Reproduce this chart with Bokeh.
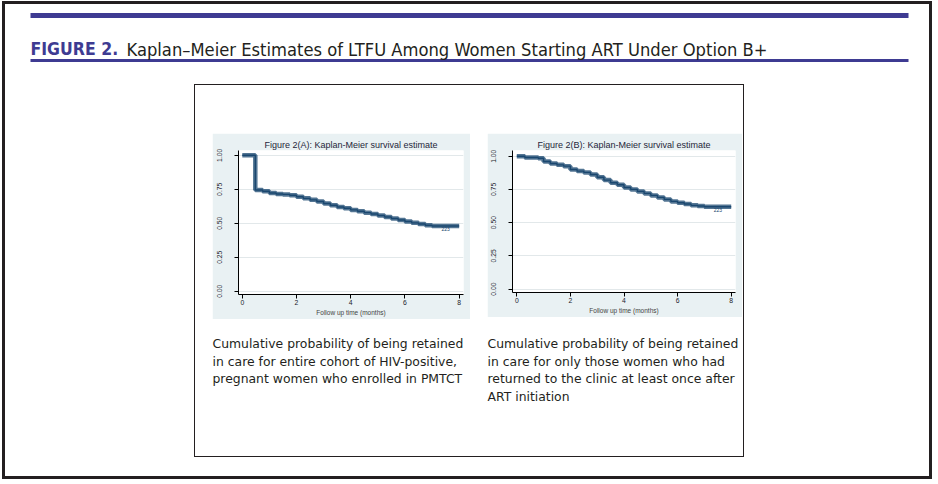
from bokeh.plotting import figure
from bokeh.layouts import column, row
from bokeh.models import Spacer, Range1d, FixedTicker
from bokeh.embed import file_html
from bokeh.resources import INLINE
from bokeh.core.properties import value

# ---------------- data ----------------
months_A = [0, 0.48, 0.75, 1.0, 1.25, 1.5, 1.75, 2.0, 2.25, 2.5, 2.75, 3.0, 3.25, 3.5,
            3.75, 4.0, 4.25, 4.5, 4.75, 5.0, 5.25, 5.5, 5.75, 6.0, 6.25, 6.5, 6.75, 7.0, 8.0]
surv_A = [1.0, 0.745, 0.735, 0.722, 0.715, 0.712, 0.706, 0.695, 0.683, 0.672, 0.66, 0.645,
          0.632, 0.62, 0.61, 0.598, 0.588, 0.578, 0.568, 0.557, 0.546, 0.535, 0.524, 0.513,
          0.503, 0.494, 0.485, 0.48, 0.48]

months_B = [0, 0.3, 0.8, 1.0, 1.25, 1.5, 1.75, 2.0, 2.25, 2.5, 2.75, 3.0, 3.25, 3.5, 3.75,
            4.0, 4.25, 4.5, 4.75, 5.0, 5.25, 5.5, 5.75, 6.0, 6.25, 6.5, 6.75, 7.0, 8.0]
surv_B = [1.0, 0.99, 0.985, 0.96, 0.945, 0.935, 0.925, 0.9, 0.888, 0.878, 0.862, 0.842,
          0.82, 0.8, 0.785, 0.765, 0.75, 0.735, 0.72, 0.705, 0.69, 0.675, 0.66, 0.65,
          0.64, 0.63, 0.625, 0.62, 0.62]

x_ticks = [0, 2, 4, 6, 8]
y_ticks = [0, 0.25, 0.5, 0.75, 1.0]
y_tick_labels = ["0.00", "0.25", "0.50", "0.75", "1.00"]

titles = ["Figure 2(A): Kaplan-Meier survival estimate",
          "Figure 2(B): Kaplan-Meier survival estimate"]
x_label = "Follow up time (months)"
fig_label = "FIGURE 2."
fig_title = "Kaplan\u2013Meier Estimates of LTFU Among Women Starting ART Under Option B+"
caption_A = ["Cumulative probability of being retained",
             "in care for entire cohort of HIV-positive,",
             "pregnant women who enrolled in PMTCT"]
caption_B = ["Cumulative probability of being retained",
             "in care for only those women who had",
             "returned to the clinic at least once after",
             "ART initiation"]
end_numbers = ["223", "223"]

NAVY = "#1a476f"
BG = "#e9f1f3"
PURPLE = "#3e3b92"
INK = "#231f20"


def km_plot(t, s, title, w, h, xr, yr, ml, end_label):
    p = figure(width=w, height=h, x_range=Range1d(*xr), y_range=Range1d(*yr),
               output_backend="svg", toolbar_location=None,
               min_border_left=ml, min_border_right=7, min_border_top=17, min_border_bottom=25,
               background_fill_color="white", border_fill_color=BG, outline_line_color=None)
    p.title.text = title
    p.title.text_font = "Liberation Sans"
    p.title.text_font_size = "9px"
    p.title.text_font_style = "normal"
    p.title.text_color = "#1f1f3a"
    p.title.align = "center"
    p.title.standoff = 1
    p.xgrid.visible = False
    p.ygrid.ticker = FixedTicker(ticks=y_ticks)
    p.ygrid.grid_line_color = "#e2e8ea"
    for ax in (p.xaxis[0], p.yaxis[0]):
        ax.axis_line_color = "black"
        ax.major_tick_line_color = "black"
        ax.minor_tick_line_color = None
        ax.major_tick_in = 0
        ax.major_tick_out = 4
        ax.major_label_text_font = "Liberation Sans"
        ax.major_label_text_font_size = "6.8px"
        ax.major_label_text_color = "#1a1a2a"
    p.xaxis.ticker = FixedTicker(ticks=x_ticks)
    p.xaxis.major_label_standoff = 1
    p.xaxis.axis_label = x_label
    p.xaxis.axis_label_text_font = "Liberation Sans"
    p.xaxis.axis_label_text_font_size = "6.5px"
    p.xaxis.axis_label_text_font_style = "normal"
    p.xaxis.axis_label_standoff = 1
    p.yaxis.ticker = FixedTicker(ticks=y_ticks)
    p.yaxis.major_label_overrides = {k: v for k, v in zip(y_ticks, y_tick_labels)}
    p.yaxis.major_label_orientation = "vertical"
    p.yaxis.major_label_standoff = 12
    # band of censoring marks + survival step
    p.step(t, s, mode="after", line_color=NAVY, line_width=4.5, line_alpha=0.75)
    p.step(t, s, mode="after", line_color=NAVY, line_width=1.4)
    p.text(x=[t[-1] - 0.5], y=[s[-1]], text=[end_label], text_font=value("Liberation Sans"),
           text_font_size="5px", text_color=NAVY, text_align="center", text_baseline="top",
           y_offset=1)
    return p


figA = km_plot(months_A, surv_A, titles[0], 258, 186, (-0.14, 8.16), (-0.024, 1.035), 26, end_numbers[0])
figB = km_plot(months_B, surv_B, titles[1], 255, 184, (-0.16, 8.16), (-0.026, 1.043), 25, end_numbers[1])

# ---------------- header ----------------
header = figure(width=924, height=80, x_range=Range1d(5, 929), y_range=Range1d(84, 4),
                output_backend="svg", toolbar_location=None, min_border=0,
                outline_line_color=None, background_fill_color="white", border_fill_color="white")
header.axis.visible = False
header.grid.visible = False
header.quad(left=[30], right=[908], top=[12.5], bottom=[17.5], color=PURPLE, line_color=None)
header.quad(left=[30], right=[908], top=[58.5], bottom=[61.5], color=PURPLE, line_color=None)
header.text(x=[30], y=[48.5], text=[fig_label], text_font=value("DejaVu Sans Condensed"),
            text_font_size="17.5px", text_color=PURPLE, text_baseline="alphabetic",
            text_font_style="bold")
header.text(x=[126], y=[48.5], text=[fig_title], text_font=value("DejaVu Sans Condensed"),
            text_font_size="18.2px", text_color=INK, text_baseline="alphabetic")

# ---------------- captions ----------------
cap = figure(width=548, height=137, x_range=Range1d(195, 743), y_range=Range1d(456, 319),
             output_backend="svg", toolbar_location=None, min_border=0,
             outline_line_color=None, background_fill_color="white", border_fill_color="white")
cap.axis.visible = False
cap.grid.visible = False
line_y = [343, 360.5, 378, 396]
cap.text(x=[212] * len(caption_A), y=line_y[:len(caption_A)], text=caption_A,
         text_font=value("DejaVu Sans"), text_font_size="12.4px", text_color=INK,
         text_baseline="middle")
cap.text(x=[487] * len(caption_B), y=line_y[:len(caption_B)], text=caption_B,
         text_font=value("DejaVu Sans"), text_font_size="12.4px", text_color=INK,
         text_baseline="middle")

box = column(Spacer(width=548, height=48),
             row(Spacer(width=17, height=186), figA, Spacer(width=17, height=186), figB),
             cap,
             styles={"border": "1px solid #231f20"})

middle = row(Spacer(width=189, height=373), box, Spacer(width=185, height=373))

root = column(header, middle, Spacer(width=924, height=19),
              styles={"border": "3px solid #231f20", "margin-left": "2px", "margin-top": "1px"})

open("out.html", "w").write(file_html(root, INLINE))
